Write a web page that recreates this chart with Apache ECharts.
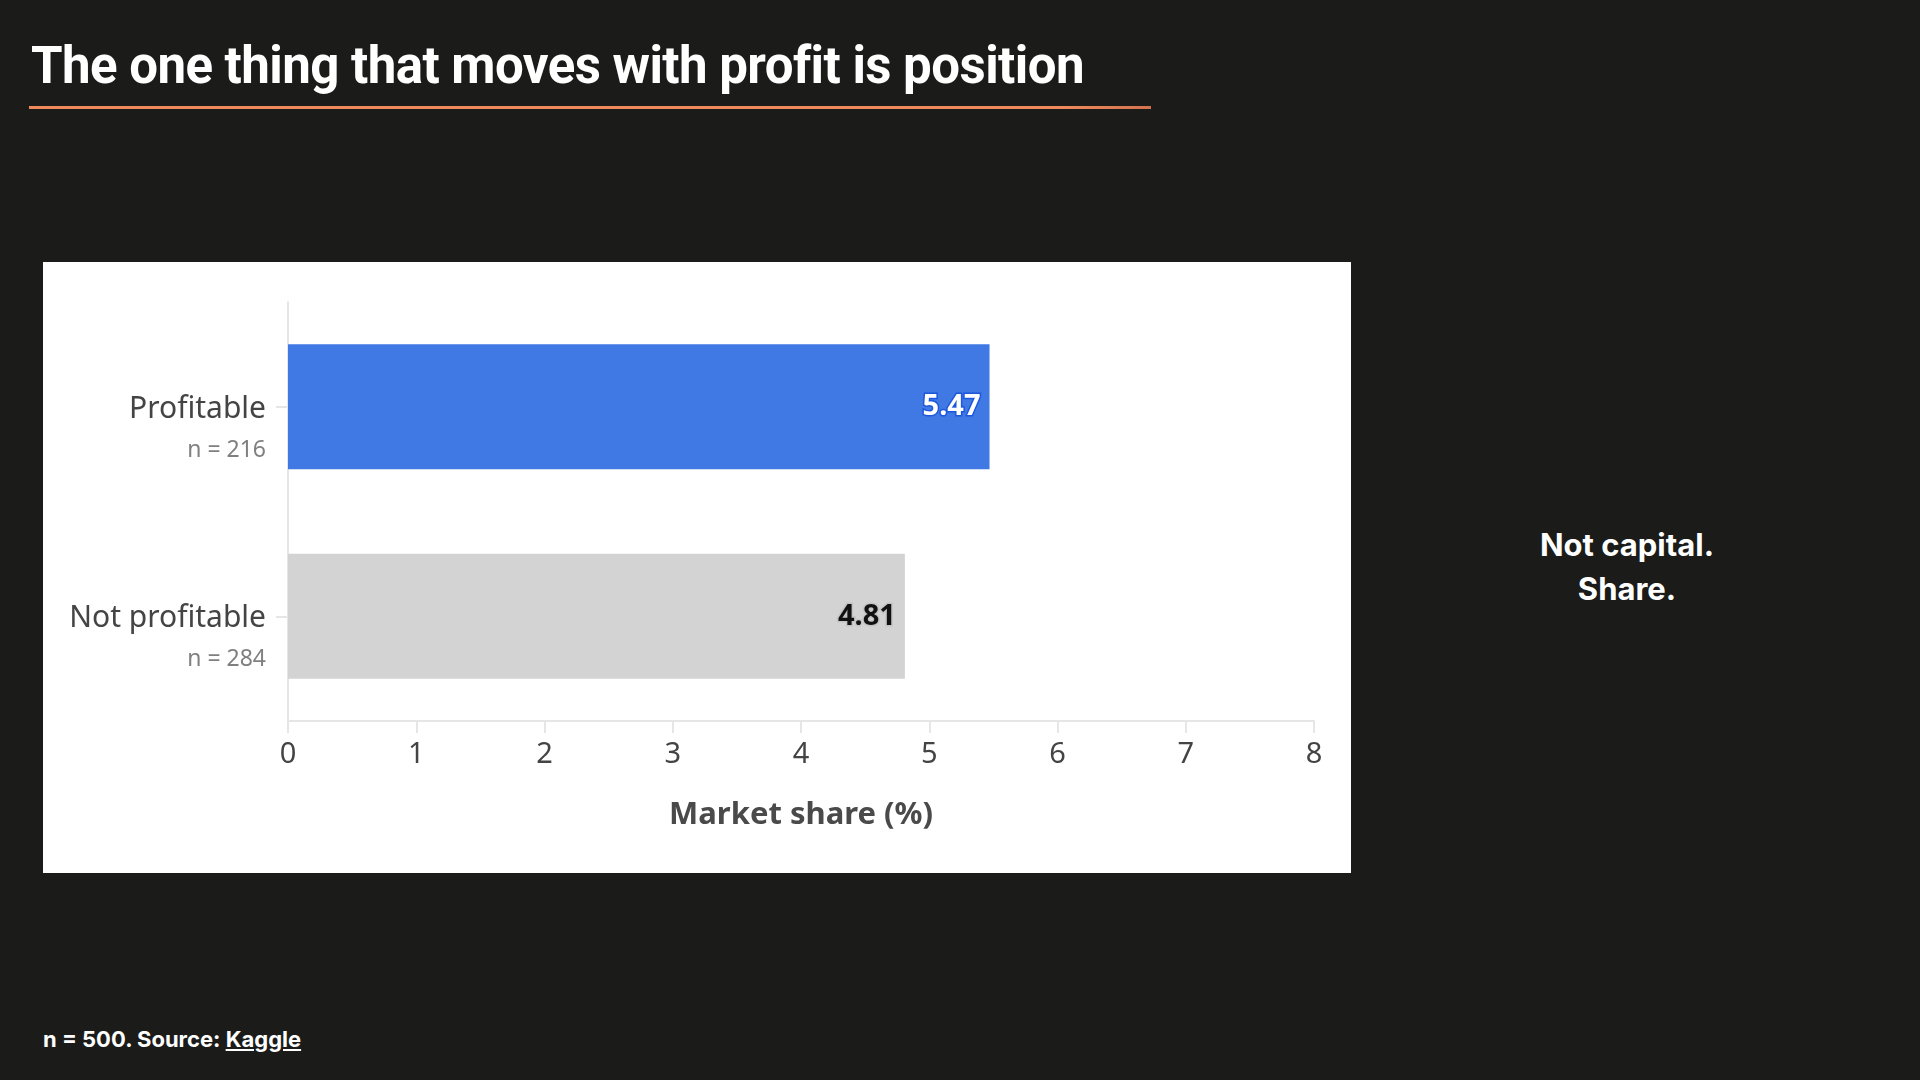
<!DOCTYPE html>
<html>
<head>
<meta charset="utf-8">
<title>Market share by profitability</title>
<script src="https://cdn.jsdelivr.net/npm/echarts@6/dist/echarts.min.js"></script>
<style>
  html, body { margin: 0; padding: 0; }
  body {
    width: 1920px; height: 1080px; overflow: hidden; position: relative;
    background: #1b1b1a; color: #fff; font-family: Inter, 'Noto Sans', sans-serif;
  }
  #title {
    position: absolute; left: 31px; top: 36px; margin: 0;
    font-family: Roboto, sans-serif; font-weight: 700; font-size: 51px; line-height: 60px;
    letter-spacing: -0.55px; white-space: nowrap;
  }
  #rule {
    position: absolute; left: 29px; top: 106px; width: 1122px; height: 3px;
    background: linear-gradient(to right, #f08a5d 0%, #f08a5d 92%, #d2734e 100%);
  }
  #panel {
    position: absolute; left: 43px; top: 262px; width: 1308px; height: 611px; background: #fff;
  }
  #chart { width: 100%; height: 100%; }
  #aside {
    position: absolute; left: 1477px; top: 523px; width: 300px; text-align: center;
    font-weight: 700; font-size: 31px; line-height: 44px;
  }
  #footer {
    position: absolute; left: 43px; top: 1026px; font-weight: 700; font-size: 22px; line-height: 26px;
  }
  #footer a { color: #fff; }
</style>
</head>
<body>
<h1 id="title">The one thing that moves with profit is position</h1>
<div id="rule"></div>
<div id="panel"><div id="chart"></div></div>
<div id="aside">Not capital.<br>Share.</div>
<div id="footer">n = 500. Source: <a href="#">Kaggle</a></div>
<script>
'use strict';

//data
var categories = ['Profitable', 'Not profitable'];
var groupSizes = [216, 284];
var marketShare = [5.47, 4.81];
var xTicks = [0, 8, 1]; // min, max, interval

//bar look per category
var barColors = ['#4179e4', '#d3d3d3'];
var labelColors = ['#ffffff', '#111111'];
var labelHalo = ['#1d57dc', '#c4c4c4'];

var axisGray = '#e6e6e6';
var font = "'Noto Sans', sans-serif";

var chart = echarts.init(document.getElementById('chart'), null, { renderer: 'canvas' });

var option = {
  animation: false,
  grid: {
    left: 245, right: 37, top: 40, bottom: 152,
    containLabel: false,
    outerBoundsMode: 'none'
  },
  xAxis: {
    type: 'value',
    min: xTicks[0],
    max: xTicks[1],
    interval: xTicks[2],
    name: 'Market share (%)',
    nameLocation: 'middle',
    nameGap: 79,
    nameTextStyle: { color: '#4a4a4a', fontSize: 31, fontWeight: 'bold', fontFamily: font },
    axisLine: { show: true, lineStyle: { color: axisGray, width: 2 } },
    axisTick: { show: true, length: 12, lineStyle: { color: axisGray, width: 2 } },
    splitLine: { show: false },
    axisLabel: { color: '#444', fontSize: 29, fontFamily: font, margin: 19 }
  },
  yAxis: {
    type: 'category',
    inverse: true,
    data: categories,
    axisLine: { show: true, lineStyle: { color: axisGray, width: 2 } },
    axisTick: { show: true, alignWithLabel: true, length: 12, lineStyle: { color: axisGray, width: 2 } },
    splitLine: { show: false },
    axisLabel: {
      margin: 22,
      //padding line on top keeps the name on the tick, n sits below
      formatter: function(value, idx) {
        return '{pad| }\n{name|' + value + '}\n{n|n = ' + groupSizes[idx] + '}';
      },
      rich: {
        pad: { fontSize: 23, lineHeight: 47, fontFamily: font },
        name: { fontSize: 30, lineHeight: 40, color: '#444', fontFamily: font, align: 'right' },
        n: { fontSize: 23, lineHeight: 42, color: '#808080', fontFamily: font, align: 'right' }
      }
    }
  },
  series: [{
    type: 'bar',
    barWidth: 125,
    data: marketShare.map(function(v, i) {
      return {
        value: v,
        itemStyle: { color: barColors[i] },
        label: { color: labelColors[i], textBorderColor: labelHalo[i] }
      };
    }),
    label: {
      show: true,
      position: 'insideRight',
      distance: 9,
      fontSize: 29,
      fontWeight: 'bold',
      fontFamily: font,
      textBorderWidth: 3,
      formatter: function(p) { return p.value.toFixed(2); }
    }
  }]
};

chart.setOption(option);
</script>
</body>
</html>
